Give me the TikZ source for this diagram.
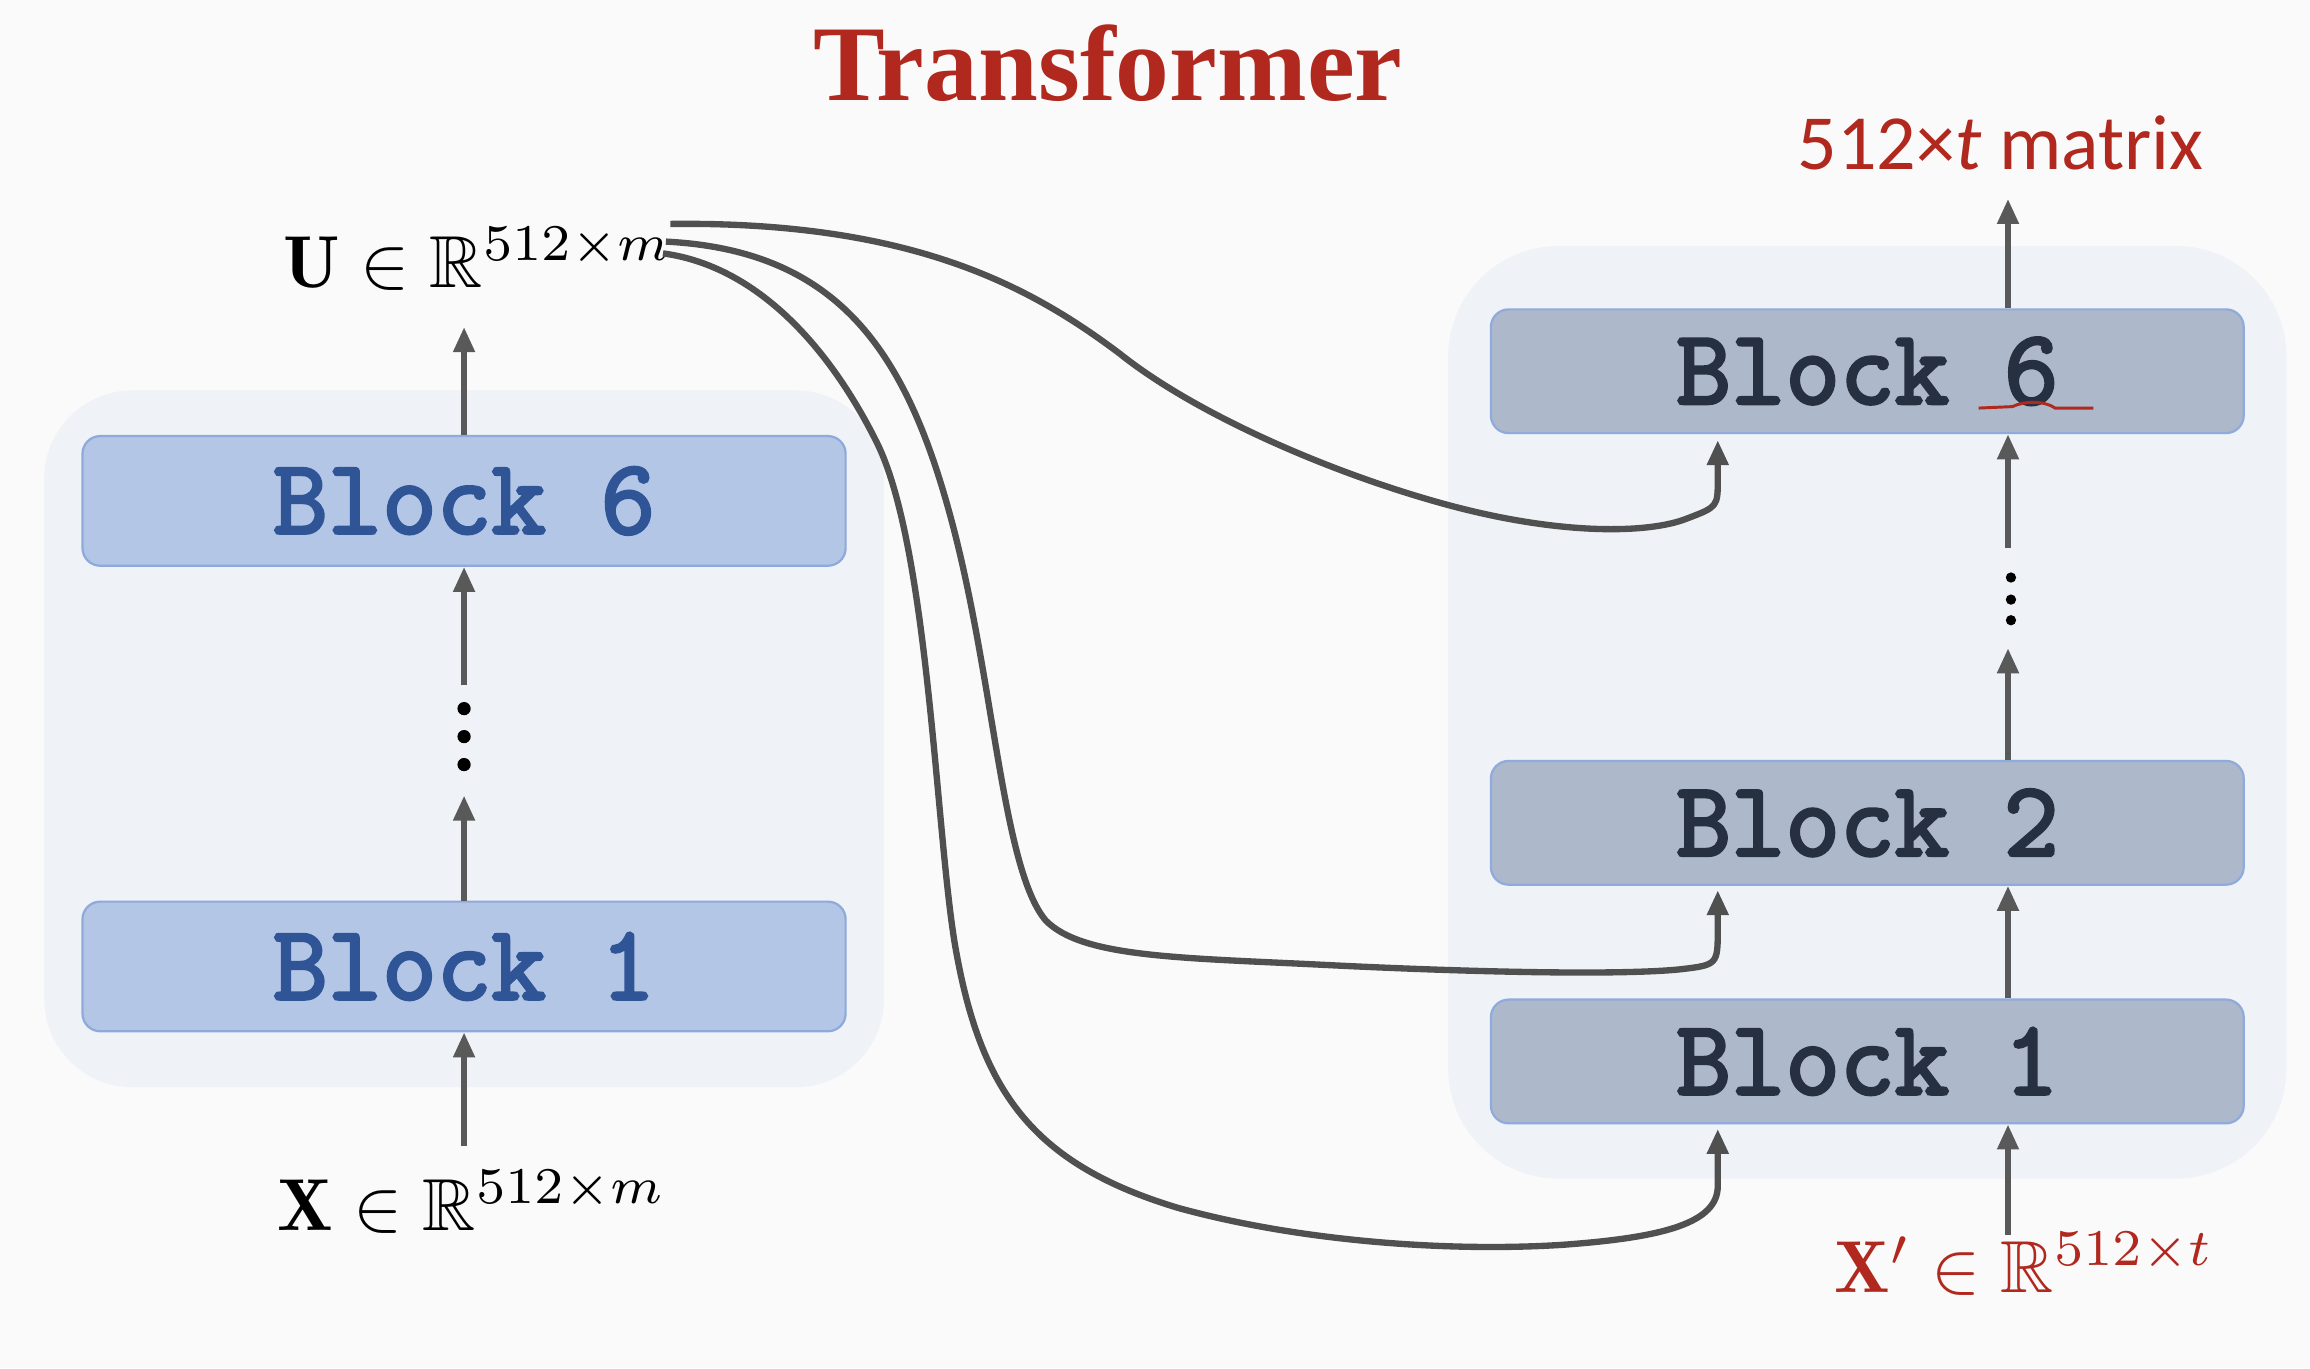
\documentclass[tikz,border=0pt]{standalone}
\usepackage{amsmath,amssymb}
\usepackage{graphicx}
\usepackage{fontspec}
\usetikzlibrary{arrows.meta}
\newfontfamily\titlefont{Liberation Serif}
\newfontfamily\carl{Carlito}
\newfontfamily\blkfont{Latin Modern Mono}[AutoFakeBold=3]
\definecolor{bgc}{HTML}{FAFAFA}
\definecolor{contc}{HTML}{EFF2F6}
\definecolor{lfill}{HTML}{B4C6E6}
\definecolor{lborder}{HTML}{8EA9DB}
\definecolor{ltext}{HTML}{2F5597}
\definecolor{rfill}{HTML}{ADB8CA}
\definecolor{rborder}{HTML}{8FAADC}
\definecolor{rtext}{HTML}{263040}
\definecolor{arrc}{HTML}{595959}
\definecolor{curvc}{HTML}{505050}
\definecolor{redc}{HTML}{B0281E}
\begin{document}
\begin{tikzpicture}[x=1pt,y=-1pt,
  container/.style={rectangle, fill=contc, inner sep=0pt},
  blockbase/.style={rectangle, rounded corners=12pt, line width=1.5pt, inner sep=0pt,
     font=\blkfont\bfseries\fontsize{72}{74}\selectfont},
  lblock/.style={blockbase, fill=lfill, draw=lborder, text=ltext, minimum width=518pt, minimum height=88pt},
  rblock/.style={blockbase, fill=rfill, draw=rborder, text=rtext, minimum width=511pt, minimum height=84pt},
  arr/.style={draw=arrc, line width=4pt, -{Triangle[length=17pt,width=14pt]}},
  curve/.style={draw=curvc, line width=4.3pt, -{Triangle[length=17pt,width=14pt]}},
  lab/.style={anchor=base west, inner sep=0pt},
  dot/.style={fill=black}
]
\useasboundingbox (0,0) rectangle (1568,928.6);
\fill[bgc] (0,0) rectangle (1568,928.6);

% title
\node[anchor=base, inner sep=0pt, text=redc, font=\titlefont\bfseries\fontsize{73}{80}\selectfont] (title) at (752,68) {Transformer};

% containers
\node[container, rounded corners=60pt, minimum width=570pt, minimum height=473pt] (lc) at (315,501.5) {};
\node[container, rounded corners=75pt, minimum width=569pt, minimum height=633pt] (rc) at (1267.5,483.5) {};

% left blocks
\node[lblock] (lb6) at (315,340) {Block 6};
\node[lblock] (lb1) at (315,656) {Block 1};

% right blocks
\node[rblock] (rb6) at (1267.5,252) {Block 6};
\node[rblock] (rb2) at (1267.5,558.5) {Block 2};
\node[rblock] (rb1) at (1267.5,720.5) {Block 1};

% labels
\node[lab] (ul) at (192,195) {\scalebox{5}{$\mathbf{U}\in\mathbb{R}^{512\times m}$}};
\node[lab] (xl) at (188,835) {\scalebox{5}{$\mathbf{X}\in\mathbb{R}^{512\times m}$}};
\node[lab, text=redc] (xpl) at (1245,877) {\scalebox{5}{$\mathbf{X}'\in\mathbb{R}^{512\times t}$}};
\node[lab, text=redc, font=\carl\fontsize{53}{60}\selectfont] (ml) at (1220,115) {512×\textit{t} matrix};

% left arrows
\coordinate (lx0) at (315,778);
\coordinate (la1) at (315,540);
\coordinate (la2) at (315,465);
\coordinate (lu) at (315,222);
\draw[arr] (lx0) -- (lb1.south);
\draw[arr] (lb1.north) -- (la1);
\fill[dot] (315,481) circle (4.5pt);
\fill[dot] (315,500) circle (4.5pt);
\fill[dot] (315,519) circle (4.5pt);
\draw[arr] (la2) -- (lb6.south);
\draw[arr] (lb6.north) -- (lu);

% right arrows
\coordinate (rx0) at (1363,838);
\coordinate (ra1) at (1363,440);
\coordinate (ra2) at (1363,372);
\coordinate (rm) at (1363,135);
\draw[arr] (rx0) -- (rb1.south -| rx0);
\draw[arr] (rb1.north -| rx0) -- (rb2.south -| rx0);
\draw[arr] (rb2.north -| rx0) -- (ra1);
\fill[dot] (1365,392) circle (3.5pt);
\fill[dot] (1365,407) circle (3.5pt);
\fill[dot] (1365,421) circle (3.5pt);
\draw[arr] (ra2) -- (rb6.south -| rx0);
\draw[arr] (rb6.north -| rx0) -- (rm);

% red underline
\draw[redc, line width=2pt] (1343,277) -- (1366,276) .. controls (1374,272) and (1388,272) .. (1395,277) -- (1421,277);

% curves from U
\coordinate (u1) at (455,152);
\coordinate (u2) at (452,164);
\coordinate (u3) at (450,172);
\coordinate (cx) at (1166,0);
\draw[curve] (u1) .. controls (620,150) and (700,195) .. (760,240)
  .. controls (810,280) and (900,320) .. (980,342)
  .. controls (1060,364) and (1120,362) .. (1145,352)
  .. controls (1166,344) .. (1166,325) -- ([yshift=-4pt]rb6.south -| cx);
\draw[curve] (u2) .. controls (570,170) and (615,240) .. (645,350)
  .. controls (675,460) and (680,590) .. (710,625)
  .. controls (735,650) and (800,650) .. (900,655)
  .. controls (1000,660) and (1100,662) .. (1140,658)
  .. controls (1166,655) .. (1166,630) -- ([yshift=-3pt]rb2.south -| cx);
\draw[curve] (u3) .. controls (510,180) and (560,230) .. (595,300)
  .. controls (630,370) and (635,560) .. (648,640)
  .. controls (665,740) and (700,790) .. (800,820)
  .. controls (880,842) and (980,850) .. (1060,845)
  .. controls (1130,840) and (1166,830) .. (1166,805) -- ([yshift=-3pt]rb1.south -| cx);
\end{tikzpicture}
\end{document}
